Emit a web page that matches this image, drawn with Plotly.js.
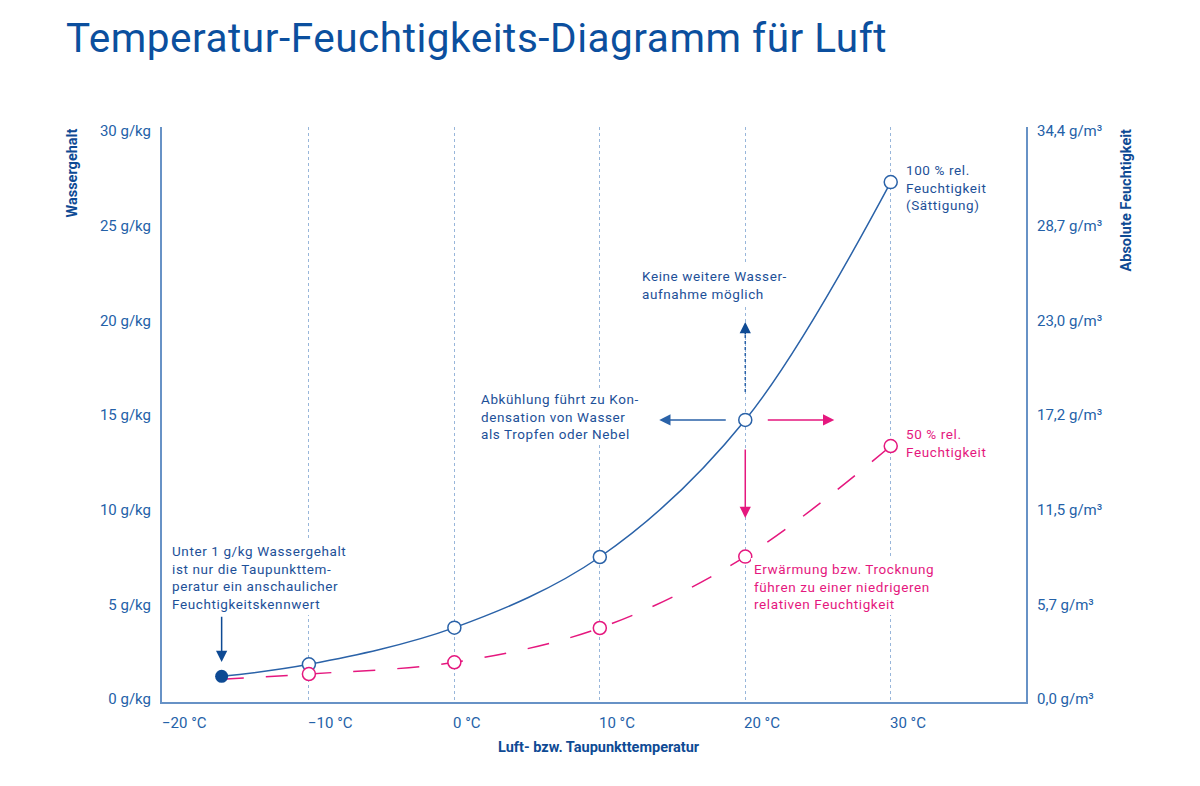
<!DOCTYPE html>
<html>
<head>
<meta charset="utf-8">
<script src="https://cdn.plot.ly/plotly-3.0.1.min.js"></script>
<style>html,body{margin:0;padding:0;background:#fff;}#chart{width:1200px;height:786px;}</style>
</head>
<body>
<div id="chart"></div>
<script>
// ---- data ----
const tempTicks = [-20, -10, 0, 10, 20, 30];
const tempTickLabels = ['−20 °C', '−10 °C', '0 °C', '10 °C', '20 °C', '30 °C'];
const waterTicks = [0, 5, 10, 15, 20, 25, 30];
const waterTickLabels = ['0 g/kg', '5 g/kg', '10 g/kg', '15 g/kg', '20 g/kg', '25 g/kg', '30 g/kg'];
const absTickLabels = ['0,0 g/m³', '5,7 g/m³', '11,5 g/m³', '17,2 g/m³', '23,0 g/m³', '28,7 g/m³', '34,4 g/m³'];
const satTemp = [-10, 0, 10, 20, 30];
const satWater = [1.83, 3.77, 7.5, 14.74, 27.3];
const halfTemp = [-10, 0, 10, 20, 30];
const halfWater = [1.32, 1.94, 3.75, 7.52, 13.36];
const dewTemp = -16;
const dewWater = 1.2;
const halfStartWater = 1.05;

// ---- styles ----
const FONT = 'Roboto, "Open Sans", sans-serif';
const C_TITLE = '#0b4f9e';
const C_DARK = '#0e4a94';
const C_TEXT = '#1d5098';
const C_TICK = '#2461a8';
const C_CURVE = '#2a62a8';
const C_AXIS = '#6792c6';
const C_GRID = '#98b6da';
const C_PINK = '#e5177e';

const L = 162, R = 1026, T = 127, B = 702;
const px = v => (v - L) / (R - L);
const py = v => (B - v) / (B - T);
const spaced = (s, ls) => s.split('<br>').map(t => '<span style="letter-spacing:' + ls + 'px">' + t + '</span>').join('<br>');

const traces = [
  { x: [dewTemp].concat(satTemp), y: [dewWater].concat(satWater), mode: 'lines',
    line: { color: C_CURVE, width: 1.5, shape: 'spline' }, hoverinfo: 'skip' },
  { x: [dewTemp].concat(halfTemp), y: [halfStartWater].concat(halfWater), mode: 'lines',
    line: { color: C_PINK, width: 1.5, shape: 'spline', dash: '22px,22px' }, hoverinfo: 'skip' },
  { x: satTemp, y: satWater, mode: 'markers',
    marker: { size: 13, color: '#fff', line: { color: C_CURVE, width: 1.5 } }, hoverinfo: 'skip' },
  { x: halfTemp, y: halfWater, mode: 'markers',
    marker: { size: 13, color: '#fff', line: { color: C_PINK, width: 1.5 } }, hoverinfo: 'skip' },
  { x: [dewTemp], y: [dewWater], mode: 'markers',
    marker: { size: 13, color: C_DARK }, hoverinfo: 'skip' }
];

function note(text, left, centerY, color, bg) {
  const pad = bg ? 3 : 1;
  return { xref: 'paper', yref: 'paper', x: px(left - pad - 1), y: py(centerY),
    xanchor: 'left', yanchor: 'middle', align: 'left', showarrow: false, text: spaced(text, 0.6),
    font: { family: FONT, size: 13.5, color: color },
    bgcolor: bg ? '#ffffff' : 'rgba(0,0,0,0)', borderpad: pad, borderwidth: 0 };
}
function arrow(x, y, xshift, yshift, ax, ay, color) {
  return { x: x, y: y, xref: 'x', yref: 'y', text: '', showarrow: true, xshift: xshift, yshift: yshift,
    ax: ax, ay: ay, arrowhead: 2, arrowsize: 1.5, arrowwidth: 1.5, arrowcolor: color, standoff: 0, startstandoff: 0 };
}

const annotations = [];
// x tick labels (left aligned at tick)
tempTicks.forEach((t, i) => {
  annotations.push({ xref: 'x', yref: 'paper', x: t, y: py(723), xanchor: 'left', yanchor: 'middle',
    xshift: -3, showarrow: false, text: tempTickLabels[i], font: { family: FONT, size: 15, color: C_TICK } });
});
// axis titles
annotations.push({ xref: 'paper', yref: 'paper', x: px(598.5), y: py(747), xanchor: 'center', yanchor: 'middle',
  showarrow: false, text: '<b>Luft- bzw. Taupunkttemperatur</b>', font: { family: FONT, size: 14.5, color: C_DARK } });
annotations.push({ xref: 'paper', yref: 'paper', x: px(72), y: py(127), xanchor: 'center', yanchor: 'top',
  textangle: -90, showarrow: false, text: '<b>Wassergehalt</b>', font: { family: FONT, size: 14.5, color: C_DARK } });
annotations.push({ xref: 'paper', yref: 'paper', x: px(1126), y: py(127), xanchor: 'center', yanchor: 'top',
  textangle: -90, showarrow: false, text: '<b>Absolute Feuchtigkeit</b>', font: { family: FONT, size: 14.5, color: C_DARK } });
// notes
annotations.push(note('100 % rel.<br>Feuchtigkeit<br>(Sättigung)', 906.7, 187.3, C_TEXT, false));
annotations.push(note('Keine weitere Wasser-<br>aufnahme möglich', 643.3, 284.7, C_TEXT, true));
annotations.push(note('Abkühlung führt zu Kon-<br>densation von Wasser<br>als Tropfen oder Nebel', 481.7, 416, C_TEXT, true));
annotations.push(note('50 % rel.<br>Feuchtigkeit', 906.7, 443, C_PINK, false));
annotations.push(note('Erwärmung bzw. Trocknung<br>führen zu einer niedrigeren<br>relativen Feuchtigkeit', 755, 586, C_PINK, true));
annotations.push(note('Unter 1 g/kg Wassergehalt<br>ist nur die Taupunkttem-<br>peratur ein anschaulicher<br>Feuchtigkeitskennwert', 173.3, 577.7, C_TEXT, true));
// arrows
annotations.push(arrow(satTemp[3], satWater[3], -86, 0, 68, 0, C_CURVE));
annotations.push(arrow(satTemp[3], satWater[3], 89, 0, -68, 0, C_PINK));
annotations.push(arrow(satTemp[3], satWater[3], 0, -98, 0, -70, C_PINK));
annotations.push(arrow(satTemp[3], satWater[3], 0, 98, 0, 14, C_DARK));
annotations.push(arrow(dewTemp, dewWater, 0, 14.3, 0, -46.7, C_DARK));

const shapes = [
  { type: 'line', xref: 'x', yref: 'y', x0: satTemp[3], x1: satTemp[3], ysizemode: 'pixel', yanchor: satWater[3],
    y0: 28, y1: 86, line: { color: C_CURVE, width: 1.5, dash: '3px,3px' } }
];

const layout = {
  width: 1200, height: 786,
  margin: { l: L, r: 1200 - R, t: T, b: 786 - B, pad: 0 },
  paper_bgcolor: '#fff', plot_bgcolor: '#fff',
  showlegend: false,
  title: { text: '<span style="letter-spacing:0.53px">Temperatur-Feuchtigkeits-Diagramm für Luft</span>',
    xref: 'container', yref: 'container',
    x: 66 / 1200, xanchor: 'left', y: 1 - 37.5 / 786, yanchor: 'middle',
    font: { family: FONT, size: 40.5, color: C_TITLE } },
  xaxis: { range: [-20.1, 39.3], tickvals: tempTicks.slice(1), showticklabels: false, ticks: '',
    showgrid: true, gridcolor: C_GRID, griddash: 'dot', gridwidth: 1,
    showline: true, linecolor: C_AXIS, linewidth: 2, zeroline: false, fixedrange: true },
  yaxis: { range: [-0.158, 30.21], tickvals: waterTicks, ticktext: waterTickLabels,
    ticks: 'outside', ticklen: 6, tickcolor: 'rgba(0,0,0,0)', showgrid: false, zeroline: false,
    showline: true, linecolor: C_AXIS, linewidth: 2,
    tickfont: { family: FONT, size: 15, color: C_TICK }, fixedrange: true },
  yaxis2: { overlaying: 'y', side: 'right', anchor: 'x', range: [-0.158, 30.21], tickvals: waterTicks, ticktext: absTickLabels,
    ticks: 'outside', ticklen: 6, tickcolor: 'rgba(0,0,0,0)', showgrid: false, zeroline: false,
    showline: true, linecolor: C_AXIS, linewidth: 2,
    tickfont: { family: FONT, size: 15, color: C_TICK }, fixedrange: true },
  annotations: annotations,
  shapes: shapes
};

traces.push({ x: [dewTemp], y: [dewWater], yaxis: 'y2', mode: 'markers', marker: { opacity: 0 }, hoverinfo: 'skip' });

Plotly.newPlot('chart', traces, layout, { displayModeBar: false, staticPlot: true });
</script>
</body>
</html>
